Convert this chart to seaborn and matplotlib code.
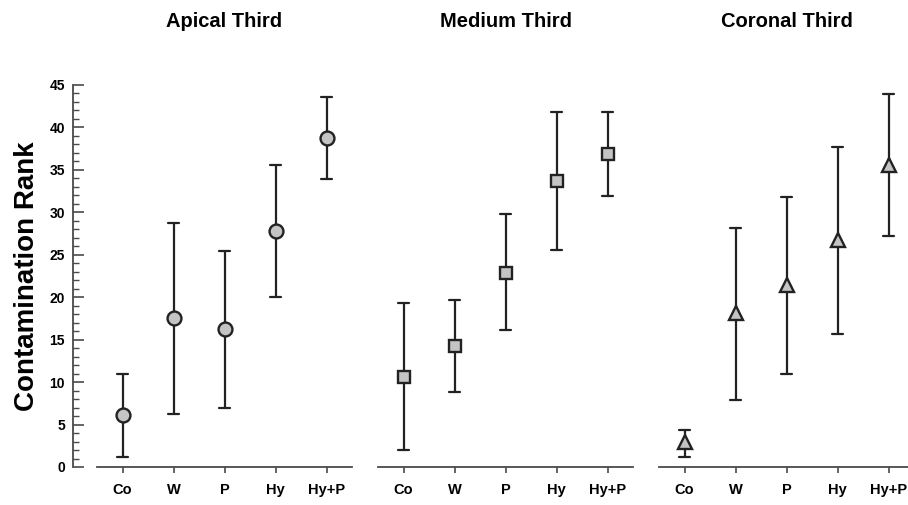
import pandas as pd
import matplotlib
matplotlib.use("Agg")
from matplotlib import pyplot as plt
from matplotlib.ticker import MultipleLocator
import seaborn as sns

groups = ["Co", "W", "P", "Hy", "Hy+P"]
panels = ["Apical Third", "Medium Third", "Coronal Third"]

# centre value, lower and upper whisker
apical_mid = [6.1, 17.6, 16.3, 27.8, 38.8]
apical_lo = [1.2, 6.3, 7.0, 20.0, 33.9]
apical_hi = [11.0, 28.8, 25.5, 35.6, 43.6]

medium_mid = [10.6, 14.2, 22.9, 33.7, 36.9]
medium_lo = [2.0, 8.8, 16.1, 25.6, 31.9]
medium_hi = [19.3, 19.7, 29.8, 41.8, 41.8]

coronal_mid = [2.9, 18.1, 21.4, 26.7, 35.6]
coronal_lo = [1.2, 7.9, 11.0, 15.7, 27.2]
coronal_hi = [4.4, 28.1, 31.8, 37.7, 43.9]

series = [
    (apical_lo, apical_mid, apical_hi, "o", 10),
    (medium_lo, medium_mid, medium_hi, "s", 9),
    (coronal_lo, coronal_mid, coronal_hi, "^", 10),
]

sns.set_style("ticks")
plt.rcParams["font.family"] = ["Liberation Sans", "DejaVu Sans"]
plt.rcParams["font.weight"] = "bold"
plt.rcParams["text.color"] = "black"
plt.rcParams["xtick.labelcolor"] = "black"
plt.rcParams["ytick.labelcolor"] = "black"
plt.rcParams["axes.labelcolor"] = "black"

fig = plt.figure(figsize=(9.08, 5.05), dpi=100)
W, H = 908.0, 505.0
lefts = [97, 378, 659]
ink = "#222222"
axis_col = "#4a4a4a"

for i, (lo, mid, hi, mk, ms) in enumerate(series):
    ax = fig.add_axes([lefts[i] / W, 38 / H, 255 / W, 382 / H])
    # long form: lo/mid/hi per group; median = centre, full range = whisker
    df = pd.DataFrame({
        "group": groups * 3,
        "rank": lo + mid + hi,
    })
    sns.pointplot(data=df, x="group", y="rank", order=groups, ax=ax,
                  estimator="median", errorbar=("pi", 100),
                  linestyle="none", marker=mk, markersize=ms,
                  markerfacecolor="#c4c4c4", markeredgecolor=ink,
                  markeredgewidth=1.7, color=ink, capsize=0.22,
                  err_kws={"linewidth": 1.6})
    # markers above the whiskers
    for ln in ax.lines:
        if ln.get_marker() not in (None, "None", ""):
            ln.set_zorder(5)
    ax.set_xlim(-0.5, 4.5)
    ax.set_ylim(0, 45)
    ax.set_xlabel("")
    ax.set_ylabel("")
    ax.set_title(panels[i], fontsize=14.5, fontweight="bold", pad=42,
                 color="black")
    ax.spines["top"].set_visible(False)
    ax.spines["right"].set_visible(False)
    ax.spines["bottom"].set_linewidth(1.3)
    ax.spines["bottom"].set_color(axis_col)
    ax.tick_params(axis="x", length=4, width=1.2, color=axis_col,
                   labelsize=10.5, pad=7.5, labelcolor="black")
    for lab in ax.get_xticklabels():
        lab.set_fontweight("bold")
    if i == 0:
        ax.spines["left"].set_position(("outward", 17.5))
        ax.spines["left"].set_linewidth(1.3)
        ax.spines["left"].set_color(axis_col)
        ax.yaxis.set_major_locator(MultipleLocator(5))
        ax.yaxis.set_minor_locator(MultipleLocator(1))
        ax.tick_params(axis="y", which="major", direction="in", length=8,
                       width=1.2, color=axis_col, labelsize=10, pad=5.5,
                       labelcolor="black")
        ax.tick_params(axis="y", which="minor", direction="in", length=4.3,
                       width=1.0, color=axis_col)
        for lab in ax.get_yticklabels():
            lab.set_fontweight("bold")
        ax.set_ylabel("Contamination Rank", fontsize=20, fontweight="bold",
                      labelpad=7, color="black")
    else:
        ax.spines["left"].set_visible(False)
        ax.set_yticks([])
        ax.tick_params(axis="y", which="both", left=False, labelleft=False)

fig.savefig("out.png", dpi=100)
